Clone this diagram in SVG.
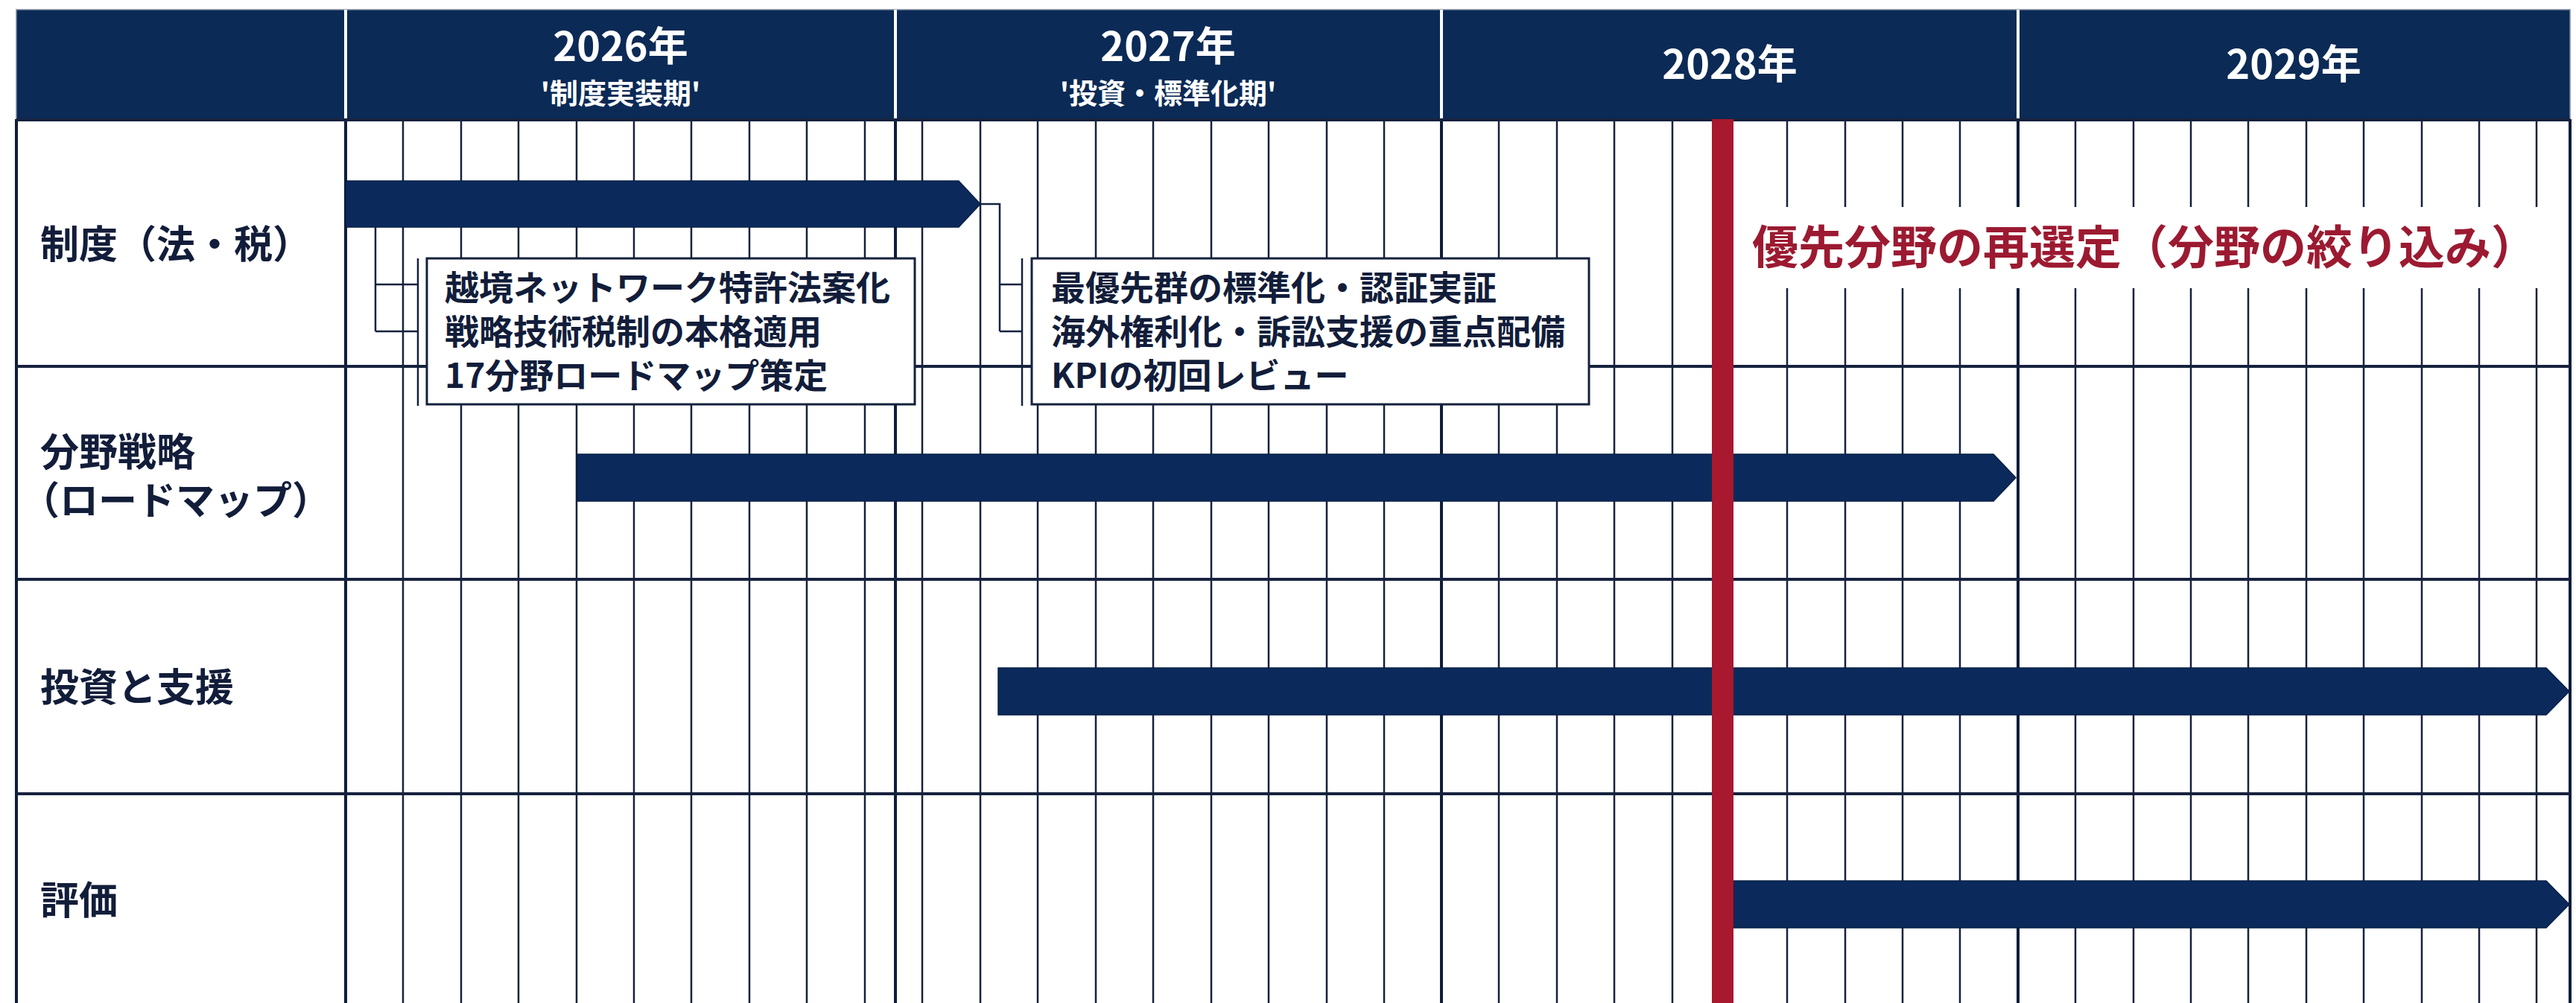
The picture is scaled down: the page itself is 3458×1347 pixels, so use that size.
<svg xmlns="http://www.w3.org/2000/svg" width="3458" height="1347" viewBox="0 0 3458 1347">
<style>
.hdr{fill:#0b2a56;stroke:#7d889c;stroke-width:1.5}
.hdiv{stroke:#ffffff;stroke-width:4}
.grid{stroke:#15213d;stroke-width:2.5;fill:none}
.thick{stroke:#0f1d3b;stroke-width:4;fill:none}
.rowline{stroke:#16223e;stroke-width:4;fill:none}
.bar{fill:#0b2a5b;stroke:#081f45;stroke-width:1.5}
.redline{fill:#a8182f}
.conn{stroke:#15213d;stroke-width:2.5;fill:none}
.box{fill:#ffffff;stroke:#15213d;stroke-width:3}
.yr{font-family:"Noto Sans CJK JP","Noto Sans",sans-serif;font-weight:700;font-size:54px;fill:#ffffff;text-anchor:middle}
.sub{font-family:"Noto Sans CJK JP","Noto Sans",sans-serif;font-weight:700;font-size:38px;fill:#ffffff;text-anchor:middle}
.lbl{font-family:"Noto Sans CJK JP","Noto Sans",sans-serif;font-weight:700;font-size:52px;fill:#121d3a}
.btxt{font-family:"Noto Sans CJK JP","Noto Sans",sans-serif;font-weight:700;font-size:46px;fill:#121d3a}
.red{font-family:"Noto Sans CJK JP","Noto Sans",sans-serif;font-weight:700;font-size:62px;fill:#9c1a31}
</style>
<rect x="0" y="0" width="3458" height="1347" fill="#ffffff"/>

<g id="header">
<rect class="hdr" x="22" y="13" width="3428" height="147"/>
<path class="hdiv" d="M464,13V160M1202,13V160M1935,13V160M2709,13V160"/>
<text class="yr" x="833" y="82">2026年</text>
<text class="sub" x="833" y="139">'制度実装期'</text>
<text class="yr" x="1568" y="82">2027年</text>
<text class="sub" x="1568" y="139">'投資・標準化期'</text>
<text class="yr" x="2322" y="106">2028年</text>
<text class="yr" x="3079" y="106">2029年</text>
</g>

<g id="grid">
<path class="grid" d="M541,160V1347M619,160V1347M696,160V1347M774,160V1347M851,160V1347M928,160V1347M1006,160V1347M1083,160V1347M1161,160V1347M1238,160V1347M1316,160V1347M1393,160V1347M1471,160V1347M1548,160V1347M1626,160V1347M1703,160V1347M1781,160V1347M1858,160V1347M2012,160V1347M2090,160V1347M2167,160V1347M2245,160V1347M2322,160V1347M2399,160V1347M2477,160V1347M2554,160V1347M2631,160V1347M2786,160V1347M2864,160V1347M2941,160V1347M3018,160V1347M3096,160V1347M3173,160V1347M3251,160V1347M3328,160V1347M3405,160V1347"/>
<path class="thick" d="M22,160V1347M464,160V1347M1202,160V1347M1935,160V1347M2709,160V1347M3450,160V1347"/>
<path class="rowline" d="M22,161H3450M22,492H3450M22,778H3450M22,1066H3450"/>
</g>

<g id="row-seido">
<text class="lbl" x="54" y="347">制度（法・税）</text>
<polygon class="bar" points="464,243 1287,243 1316,274 1287,305 464,305"/>
</g>
<g id="row-bunya">
<text class="lbl" x="54" y="626">分野戦略</text>
<text class="lbl" x="28" y="691">（ロードマップ）</text>
<polygon class="bar" points="775,610 2676,610 2706,641.5 2676,673 775,673"/>
</g>
<g id="row-toshi">
<text class="lbl" x="54" y="942">投資と支援</text>
<polygon class="bar" points="1340,897 3418,897 3449,928.5 3418,960 1340,960"/>
</g>
<g id="row-hyoka">
<text class="lbl" x="54" y="1228">評価</text>
<polygon class="bar" points="2327,1183 3418,1183 3449,1214.5 3418,1246 2327,1246"/>
</g>

<g id="milestone">
<rect x="2327" y="278" width="1115" height="109" fill="#ffffff"/>
<rect class="redline" x="2298" y="160" width="29" height="1187"/>
<text class="red" x="2352" y="355">優先分野の再選定（分野の絞り込み）</text>
</g>

<g id="connectors">
<path class="conn" d="M504,305V445M504,382H561M504,445H561M561,347V545"/>
<path class="conn" d="M1316,274H1342V445M1342,382H1372M1342,445H1372M1372,347V545"/>
</g>

<g id="box-2026">
<rect class="box" x="573" y="347" width="655" height="196"/>
<text class="btxt" x="597" y="403">越境ネットワーク特許法案化</text>
<text class="btxt" x="597" y="462">戦略技術税制の本格適用</text>
<text class="btxt" x="597" y="521">17分野ロードマップ策定</text>
</g>
<g id="box-2027">
<rect class="box" x="1385" y="347" width="748" height="196"/>
<text class="btxt" x="1411" y="403">最優先群の標準化・認証実証</text>
<text class="btxt" x="1411" y="462">海外権利化・訴訟支援の重点配備</text>
<text class="btxt" x="1411" y="521">KPIの初回レビュー</text>
</g>
</svg>
